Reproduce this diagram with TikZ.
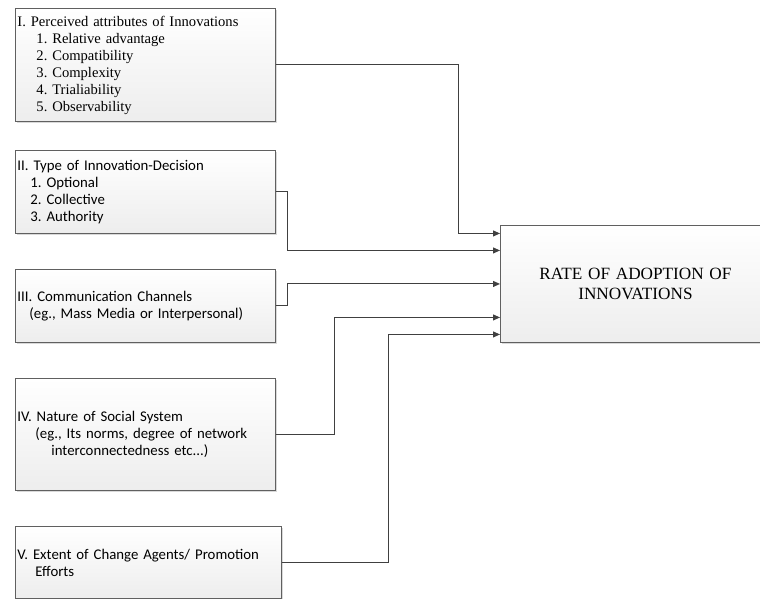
\documentclass[tikz,border=0pt]{standalone}
\usepackage{fontspec}
\setmainfont{Liberation Serif}
\newfontfamily\calib{Carlito}
\usetikzlibrary{arrows.meta,positioning,shadows,calc}
\definecolor{linegray}{RGB}{64,64,64}
\definecolor{boxgray}{RGB}{96,96,96}
\frenchspacing

\begin{document}
\begin{tikzpicture}[x=1pt, y=-1pt, >={Triangle[length=7pt,width=6pt]},
			factor/.style={draw=boxgray, line width=0.9pt, rectangle, anchor=north west, align=left,
				inner xsep=2pt, inner ysep=0pt, top color=white, bottom color=black!7,
				drop shadow={shadow xshift=1.2pt, shadow yshift=-1.2pt, opacity=0.25, fill=black!60},
				font=\calib\fontsize{14.8}{17}\selectfont},
			serifbox/.style={factor, font=\fontsize{14.6}{17}\selectfont},
			target/.style={factor, align=center, inner xsep=0pt, font=\fontsize{17.2}{20}\selectfont},
			conn/.style={line width=1pt, color=linegray, ->}
			]
			\useasboundingbox (0,0) rectangle (760,599);
			\node[serifbox, minimum width=260pt, minimum height=113pt, text width=256pt](attr) at (15,8) {I. Perceived attributes of Innovations\\
				\hspace*{19pt}1. Relative advantage\\
				\hspace*{19pt}2. Compatibility\\
				\hspace*{19pt}3. Complexity\\
				\hspace*{19pt}4. Trialiability\\
				\hspace*{19pt}5. Observability};
			\node[factor, minimum width=260pt, minimum height=83pt, text width=256pt](decis) at (15,150) {II. Type of Innovation-Decision\\
				\hspace*{13pt}1. Optional\\
				\hspace*{13pt}2. Collective\\
				\hspace*{13pt}3. Authority};
			\node[factor, minimum width=260pt, minimum height=73pt, text width=256pt](chan) at (15,269) {III. Communication Channels\\
				\hspace*{12pt}(eg., Mass Media or Interpersonal)};
			\node[factor, minimum width=260pt, minimum height=112pt, text width=256pt](social) at (15,378) {IV. Nature of Social System\\
				\hspace*{18pt}(eg., Its norms, degree of network\\
				\hspace*{34pt}interconnectedness etc...)};
			\node[factor, minimum width=266pt, minimum height=72pt, text width=262pt](agents) at (15,526) {V. Extent of Change Agents/ Promotion\\
				\hspace*{18pt}Efforts};
			\node[target, minimum width=270pt, minimum height=117pt, text width=270pt](rate) at (500,225) {RATE OF ADOPTION OF\\ INNOVATIONS};
			
			\draw [conn] (attr.east) -| ([xshift=-42pt,yshift=50.5pt]rate.west) -- ([yshift=50.5pt]rate.west);
			\draw [conn] (decis.east) -- ++(12,0) |- ([yshift=33.5pt]rate.west);
			\draw [conn] (chan.east) -- ++(12,0) |- (rate.west);
			\draw [conn] (social.east) -- ++(59,0) |- ([yshift=-33.5pt]rate.west);
			\draw [conn] (agents.east) -- ++(107,0) |- ([yshift=-50.5pt]rate.west);
			\end{tikzpicture}
\end{document}
